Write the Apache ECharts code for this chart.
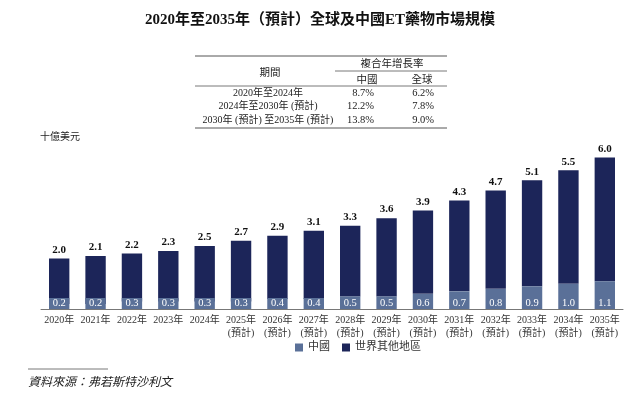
<!DOCTYPE html>
<html>
<head>
<meta charset="utf-8">
<script src="https://cdn.jsdelivr.net/npm/echarts@6/dist/echarts.min.js"></script>
<style>html,body{margin:0;padding:0;background:#fff;}#c{width:640px;height:402px;}</style>
</head>
<body>
<div id="c"></div>
<script>
const years = ['2020年','2021年','2022年','2023年','2024年','2025年\n(預計)','2026年\n(預計)','2027年\n(預計)','2028年\n(預計)','2029年\n(預計)','2030年\n(預計)','2031年\n(預計)','2032年\n(預計)','2033年\n(預計)','2034年\n(預計)','2035年\n(預計)'];
const totals = [2.0,2.1,2.2,2.3,2.5,2.7,2.9,3.1,3.3,3.6,3.9,4.3,4.7,5.1,5.5,6.0];
const china = [0.2,0.2,0.3,0.3,0.3,0.3,0.4,0.4,0.5,0.5,0.6,0.7,0.8,0.9,1.0,1.1];
const rest = totals.map((t,i)=>+(t-china[i]).toFixed(1));
const tablePeriods = ['2020年至2024年','2024年至2030年 (預計)','2030年 (預計) 至2035年 (預計)'];
const tableChina = ['8.7%','12.2%','13.8%'];
const tableGlobal = ['6.2%','7.8%','9.0%'];

const SERIF = '"Liberation Serif","Noto Sans CJK TC",serif';
const SANS = '"Noto Sans CJK TC",sans-serif';
const NAVY = '#1c2559';
const STEEL = '#5a7098';

const chart = echarts.init(document.getElementById('c'));
const g = [];
const L = (x1,y1,x2,y2,w)=>({type:'line',shape:{x1,y1,x2,y2},style:{stroke:'#555',lineWidth:w||0.8},silent:true});
g.push(L(195,56,447,56,1), L(335,71,447,71), L(195,86,447,86), L(195,128,447,128,1));
const T = (x,y,text,align,font)=>({type:'text',x,y,style:{text,fill:'#222',font:font,align:align||'center',verticalAlign:'middle'},silent:true});
g.push(T(270,72,'期間','center','10.5px '+SANS));
g.push(T(392,63,'複合年增長率','center','10.5px '+SANS));
g.push(T(367,79,'中國','center','10.5px '+SANS));
g.push(T(422,79,'全球','center','10.5px '+SANS));
tablePeriods.forEach((p,i)=>{
  const y = 93 + i*13.5;
  g.push(T(268,y,p,'center','10px '+SERIF));
  g.push(T(374,y,tableChina[i],'right','10.5px '+SERIF));
  g.push(T(434,y,tableGlobal[i],'right','10.5px '+SERIF));
});
g.push(T(40,137,'十億美元','left','10px '+SERIF));
g.push(L(28,369,108,369,0.8));
g.push(T(28,383,'資料來源：弗若斯特沙利文','left','italic 12px '+SERIF));

chart.setOption({
  animation:false,
  title:{text:'2020年至2035年（預計）全球及中國ET藥物市場規模',left:'center',top:8,
    textStyle:{fontFamily:SERIF,fontSize:15,fontWeight:'bold',color:'#111'}},
  legend:{top:337,left:290,itemWidth:8,itemHeight:8,itemGap:12,icon:'rect',
    textStyle:{fontFamily:SERIF,fontSize:11,color:'#333'},data:['中國','世界其他地區']},
  grid:{left:41,right:17,top:150,bottom:93},
  xAxis:{type:'category',data:years,
    axisLine:{lineStyle:{color:'#777',width:1}},axisTick:{show:false},
    axisLabel:{interval:0,fontFamily:SERIF,fontSize:10,color:'#333',lineHeight:13,margin:5}},
  yAxis:{type:'value',min:0,max:6.3,show:false,splitLine:{show:false}},
  series:[
    {name:'中國',type:'bar',stack:'a',data:china,barWidth:'56%',barMinHeight:11,z:3,
      itemStyle:{color:STEEL},
      label:{show:true,position:'insideBottom',distance:1,color:'#fff',fontFamily:SERIF,fontSize:10.5,formatter:p=>p.value.toFixed(1)}},
    {name:'世界其他地區',type:'bar',stack:'a',data:rest,barWidth:'56%',z:2,
      itemStyle:{color:NAVY},
      label:{show:true,position:'top',distance:3,color:'#111',fontFamily:SERIF,fontSize:11,fontWeight:'bold',
        formatter:p=>totals[p.dataIndex].toFixed(1)}}
  ],
  graphic:g
});
</script>
</body>
</html>
